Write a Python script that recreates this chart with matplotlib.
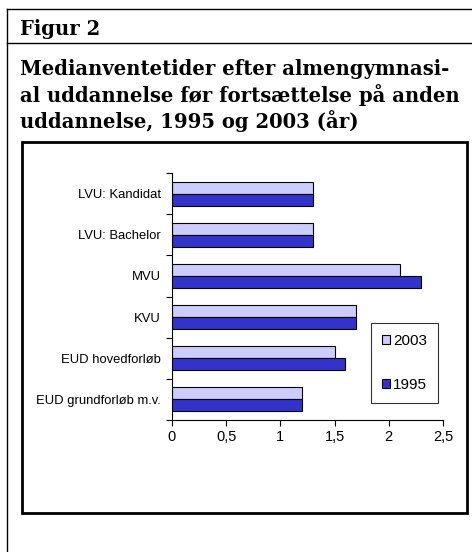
import matplotlib
matplotlib.use("Agg")
import matplotlib.pyplot as plt
from matplotlib.lines import Line2D
from matplotlib.patches import Rectangle
import numpy as np

categories = ["EUD grundforløb m.v.", "EUD hovedforløb", "KVU", "MVU", "LVU: Bachelor", "LVU: Kandidat"]
values_2003 = [1.2, 1.5, 1.7, 2.1, 1.3, 1.3]
values_1995 = [1.2, 1.6, 1.7, 2.3, 1.3, 1.3]
series_labels = ["2003", "1995"]
xticks = [0, 0.5, 1, 1.5, 2, 2.5]
xtick_labels = ["0", "0,5", "1", "1,5", "2", "2,5"]
fig_label = "Figur 2"
title_lines = ["Medianventetider efter almengymnasi-",
               "al uddannelse før fortsættelse på anden",
               "uddannelse, 1995 og 2003 (år)"]

W, H = 472, 552
fig = plt.figure(figsize=(W / 100, H / 100), dpi=100)
fig.patch.set_facecolor("white")

def fx(px):
    return px / W

def fy(py):
    return 1 - py / H

# outer frame lines
fig.add_artist(Line2D([fx(7), fx(7)], [fy(9), fy(552)], color="black", lw=1.0))
fig.add_artist(Line2D([fx(7), fx(472)], [fy(9), fy(9)], color="black", lw=1.0))
fig.add_artist(Line2D([fx(7), fx(472)], [fy(43), fy(43)], color="black", lw=1.0))

serif = "DejaVu Serif"
renderer = fig.canvas.get_renderer()
probe = fig.text(0, 0, title_lines[1], family=serif, weight="bold", fontsize=14)
wpx = probe.get_window_extent(renderer).width
probe.remove()
tsize = 14 * 440 / wpx

fig.text(fx(20), fy(35), fig_label, family=serif, weight="bold", fontsize=tsize, va="baseline", ha="left")
for i, line in enumerate(title_lines):
    fig.text(fx(20), fy(75 + 26.7 * i), line, family=serif, weight="bold", fontsize=tsize,
             va="baseline", ha="left")

# chart box
fig.add_artist(Rectangle((fx(22), fy(513)), fx(467) - fx(22), fy(142) - fy(513),
                         transform=fig.transFigure, fill=False, edgecolor="black", lw=2.0))

sans = "Liberation Sans"
ax = fig.add_axes([fx(172), fy(420), fx(443) - fx(172), fy(173) - fy(420)])
y = np.arange(len(categories))
h = 0.29
ax.barh(y + h / 2, values_2003, height=h, color="#CCCCFF", edgecolor="black", lw=0.8, label=series_labels[0])
ax.barh(y - h / 2, values_1995, height=h, color="#3333CC", edgecolor="black", lw=0.8, label=series_labels[1])

ax.set_xlim(0, 2.5)
ax.set_ylim(-0.5, len(categories) - 0.5)
ax.set_xticks(xticks)
ax.set_xticklabels(xtick_labels, family=sans, fontsize=10.5)
ax.set_yticks(np.arange(-0.5, len(categories), 1.0))
ax.set_yticklabels([])
ax.set_yticks(y, minor=True)
ax.set_yticklabels(categories, minor=True, family=sans, fontsize=9.4)
ax.tick_params(axis="y", which="minor", length=0, pad=8)
ax.tick_params(axis="y", which="major", length=4, width=0.8, direction="out")
ax.tick_params(axis="x", length=4, width=0.8, direction="out", pad=3)
for s in ["top", "right"]:
    ax.spines[s].set_visible(False)
ax.spines["left"].set_linewidth(0.8)
ax.spines["bottom"].set_linewidth(0.8)
ax.set_facecolor("white")

leg = ax.legend(loc="upper left", bbox_to_anchor=((371 - 172) / (443 - 172), (420 - 323) / (420 - 173)),
                prop={"family": sans, "size": 11}, frameon=True, fancybox=False,
                edgecolor="black", handlelength=0.55, handleheight=0.55, labelspacing=2.0,
                borderpad=0.7, handletextpad=0.2, borderaxespad=0)
leg.get_frame().set_linewidth(0.8)

fig.savefig("out.png", dpi=100)
